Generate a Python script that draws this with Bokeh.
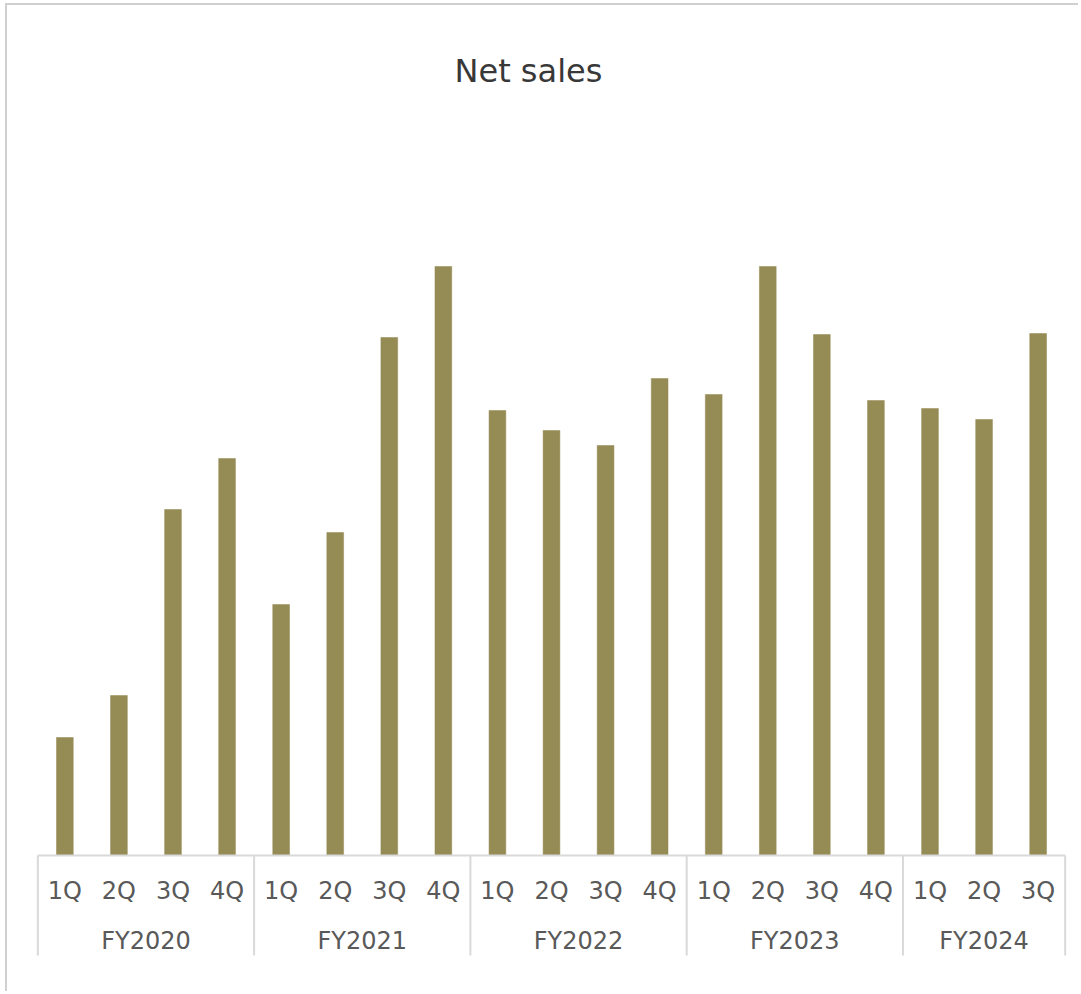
import numpy as np
from bokeh.plotting import figure
from bokeh.models import FactorRange, Range1d, ColumnDataSource, Title
from bokeh.core.properties import value
from bokeh.embed import file_html
from bokeh.resources import INLINE

# ---- data (arbitrary units) ----
years = ["FY2020", "FY2021", "FY2022", "FY2023", "FY2024"]
quarters = [["1Q", "2Q", "3Q", "4Q"],
            ["1Q", "2Q", "3Q", "4Q"],
            ["1Q", "2Q", "3Q", "4Q"],
            ["1Q", "2Q", "3Q", "4Q"],
            ["1Q", "2Q", "3Q"]]
net_sales = [118, 160, 346, 397,
             251, 323, 518, 589,
             445, 425, 410, 477,
             461, 589, 521, 455,
             447, 436, 522]

factors = [(y, q) for y, qs in zip(years, quarters) for q in qs]
counts = [len(qs) for qs in quarters]
bounds = np.cumsum([0] + counts)          # group boundaries in synthetic units
centers = (bounds[:-1] + bounds[1:]) / 2  # group centres

FONT = "DejaVu Sans"
LABEL_COLOR = "#595959"
LINE_COLOR = "#d9d9d9"

x_range = FactorRange(factors=factors, factor_padding=0, group_padding=0,
                      range_padding=0.08, range_padding_units="absolute")
y_range = Range1d(-105, 766)

p = figure(x_range=x_range, y_range=y_range, width=1073, height=988,
           output_backend="svg", toolbar_location=None,
           x_axis_location=None, y_axis_location=None,
           min_border_left=26, min_border_right=11,
           min_border_top=84, min_border_bottom=33)
p.grid.visible = False
p.outline_line_color = None
p.background_fill_color = "white"
p.border_fill_color = "white"
p.styles = {"margin-left": "5px", "margin-top": "3px",
            "border-left": "2px solid #d0d0d0", "border-top": "2px solid #d0d0d0"}

p.add_layout(Title(text="Net sales", align="left", offset=421, standoff=0,
                   text_font=FONT, text_font_size="32px", text_font_style="normal",
                   text_color="#383838", vertical_align="bottom"), "above")

src = ColumnDataSource(dict(x=factors, top=net_sales,
                            q=[f[1] for f in factors]))
p.vbar(x="x", top="top", width=0.31, source=src,
       fill_color="#958B55", line_color="#958B55", line_width=0.5)

# axis box: baseline + group separators
p.segment(x0=[bounds[0]], y0=[0], x1=[bounds[-1]], y1=[0],
          line_color=LINE_COLOR, line_width=2)
p.segment(x0=bounds, y0=[0] * len(bounds), x1=bounds, y1=[-100] * len(bounds),
          line_color=LINE_COLOR, line_width=2)

# category labels
p.text(x="x", y=-35, text="q", source=src, text_align="center",
       text_baseline="alphabetic", text_font=value(FONT),
       text_font_size="24px", text_color=LABEL_COLOR)
p.text(x=centers, y=[-85] * len(years), text=years, text_align="center",
       text_baseline="alphabetic", text_font=value(FONT),
       text_font_size="24px", text_color=LABEL_COLOR)

open("out.html", "w").write(file_html(p, INLINE))
